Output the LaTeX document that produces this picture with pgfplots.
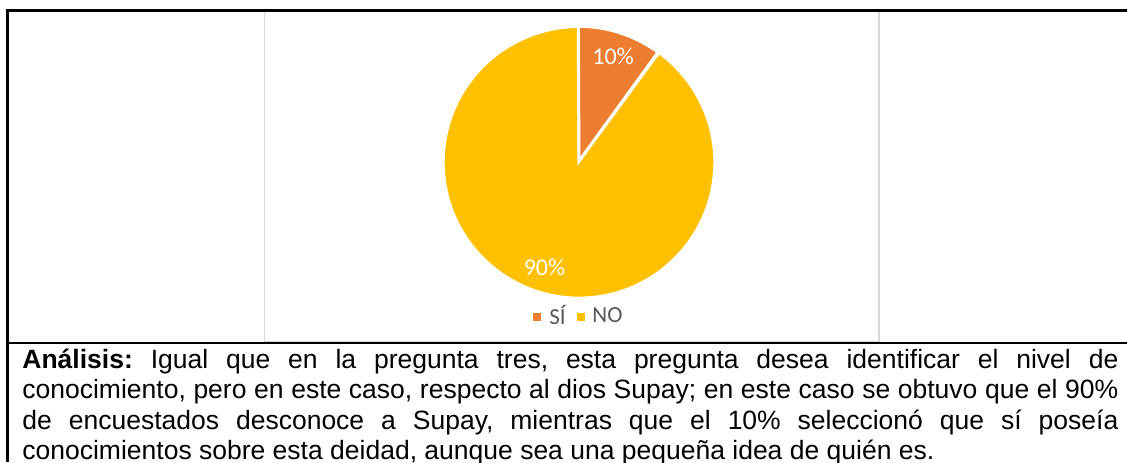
\documentclass[border=0pt]{standalone}
\usepackage{pgfplots}
\pgfplotsset{compat=1.18}
\usepackage{pgfplotstable}
\usepackage{fontspec}
\setmainfont{Liberation Sans}
\newfontfamily\carlito{Carlito}
\definecolor{sliceA}{HTML}{ED7D31}
\definecolor{sliceB}{HTML}{FFC000}
\definecolor{legtext}{HTML}{595959}
\definecolor{boxgray}{HTML}{D9D9D9}

\pgfplotstableread{
label value
SÍ 10
NO 90
}\piedata

\begin{document}%
\begin{tikzpicture}
\pgfplotstablegetelem{0}{value}\of\piedata \edef\va{\pgfplotsretval}
\pgfplotstablegetelem{1}{value}\of\piedata \edef\vb{\pgfplotsretval}
\pgfmathsetmacro\angA{90-3.6*\va}
\pgfmathsetmacro\midA{90-1.8*\va}
\pgfmathsetmacro\midB{\angA-1.8*\vb}
\pgfmathsetmacro\endB{\angA+360}
\useasboundingbox (0pt,0pt) rectangle (563.5pt,231pt);
\clip (0pt,0pt) rectangle (563.5pt,231pt);
\fill[white] (0pt,0pt) rectangle (563.5pt,231pt);
\draw[boxgray, line width=0.75pt] (132.25pt,225.5pt) rectangle (439.5pt,60pt);
\begin{axis}[at={(289.5pt,150.5pt)}, anchor=center, hide axis, scale only axis,
  width=134.5pt, height=134.5pt, xmin=-1, xmax=1, ymin=-1, ymax=1, clip=false,
  legend columns=2,
  legend image code/.code={\fill[#1] (0pt,-1.75pt) rectangle (3.5pt,1.75pt);},
  legend style={draw=none, fill=none, at={(0.5,-0.078)}, anchor=center,
    font=\carlito\fontsize{11.5}{13}\selectfont, text=legtext,
    nodes={inner sep=1pt},
    /tikz/every odd column/.append style={column sep=3pt},
    /tikz/every even column/.append style={column sep=4.5pt}}]
\addlegendimage{sliceA}
\addlegendentry{SÍ}
\addlegendimage{sliceB}
\addlegendentry{NO}
\fill[sliceB, draw=white, line width=1.5pt] (axis cs:0,0) -- (axis cs:0,1) arc[start angle=90, end angle=\endB, radius=67.9pt] -- cycle;
\fill[sliceA, draw=white, line width=1.5pt] (axis cs:0,0) -- (axis cs:{cos(\angA)},{sin(\angA)}) arc[start angle=\angA, end angle=90, radius=67.9pt] -- cycle;
\node[text=white, font=\carlito\fontsize{12}{14}\selectfont] at (axis cs:{0.82*cos(\midA)},{0.82*sin(\midA)}) {\va\%};
\node[text=white, font=\carlito\fontsize{12}{14}\selectfont] at (axis cs:{0.83*cos(\midB)},{0.83*sin(\midB)}) {\vb\%};
\end{axis}
\draw[black, line width=1.4pt] (3.75pt,0pt) -- (3.75pt,225.75pt) -- (563.5pt,225.75pt);
\draw[black, line width=1.4pt] (3.75pt,59.5pt) -- (563.5pt,59.5pt);
\node[anchor=base west, inner sep=0pt, text width=548pt, align=justify,
  font=\fontsize{13.25}{15.25}\selectfont\frenchspacing] at (11pt,47pt)
  {\textbf{Análisis:} Igual que en la pregunta tres, esta pregunta desea identificar el nivel de\linebreak
  conocimiento, pero en este caso, respecto al dios Supay; en este caso se obtuvo que el 90\%\linebreak
  de encuestados desconoce a Supay, mientras que el 10\% seleccionó que sí poseía\linebreak
  conocimientos sobre esta deidad, aunque sea una pequeña idea de quién es.};
\end{tikzpicture}%
\end{document}
